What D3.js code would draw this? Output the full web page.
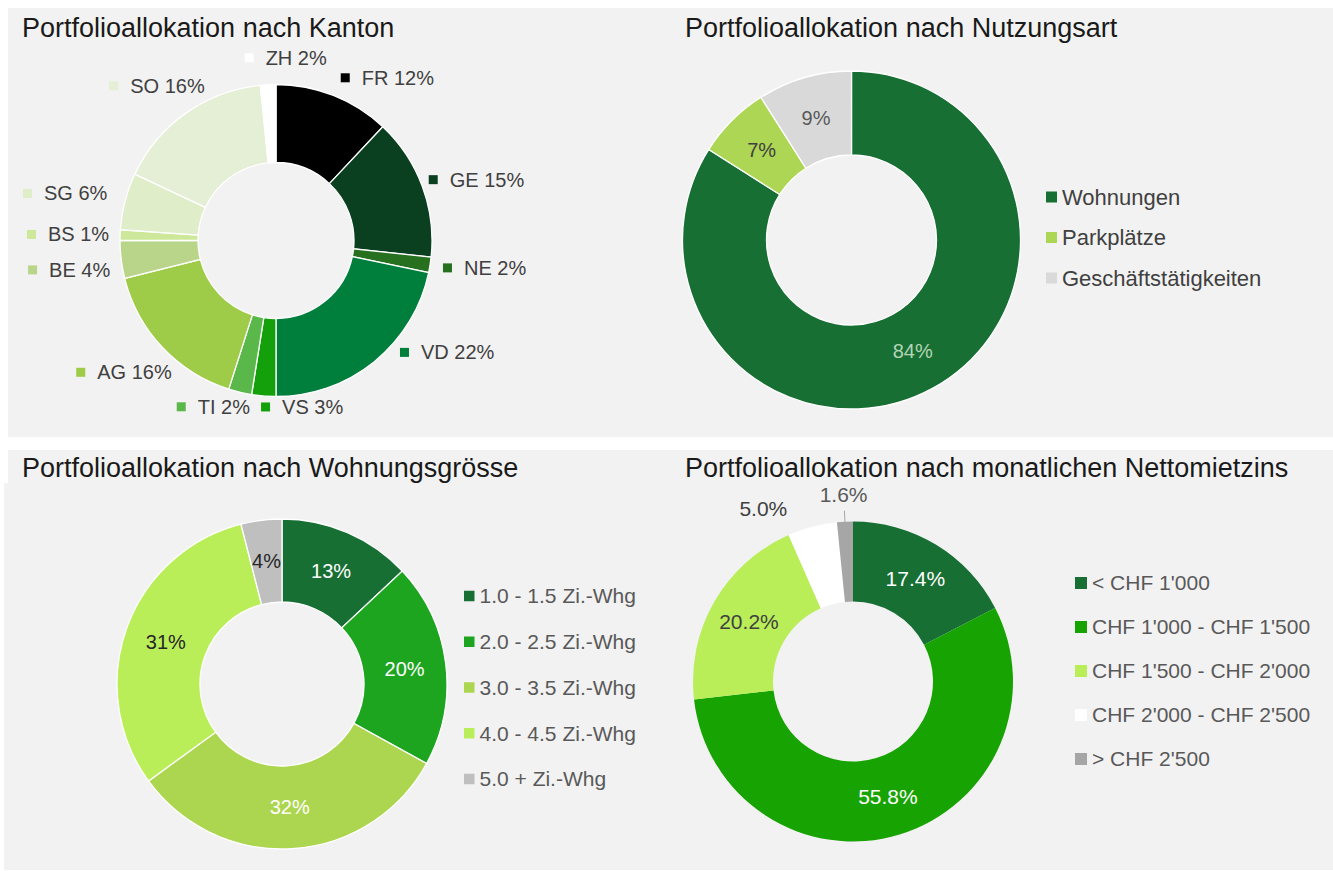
<!DOCTYPE html>
<html lang="de">
<head>
<meta charset="UTF-8">
<title>Portfolioallokation</title>
<style>
  body { margin: 0; background: #ffffff; }
  svg text { font-family: "Liberation Sans", Arial, Helvetica, sans-serif; }
</style>
</head>
<body>
<div id="chart"></div>
<script src="https://d3js.org/d3.v7.min.js"></script>
<script>
// --- data ---
const kantonNames = ["FR", "GE", "NE", "VD", "VS", "TI", "AG", "BE", "BS", "SG", "SO", "ZH"];
const kantonValues = [12, 14.7, 1.6, 21.7, 2.5, 2.4, 16.2, 3.9, 1.1, 5.9, 16.4, 1.6];

const nutzungNames = ["Wohnungen", "Parkplätze", "Geschäftstätigkeiten"];
const nutzungValues = [84, 7, 9];

const groesseNames = ["1.0 - 1.5 Zi.-Whg", "2.0 - 2.5 Zi.-Whg", "3.0 - 3.5 Zi.-Whg", "4.0 - 4.5 Zi.-Whg", "5.0 + Zi.-Whg"];
const groesseValues = [13, 20, 32, 31, 4];

const mieteNames = ["< CHF 1'000", "CHF 1'000 - CHF 1'500", "CHF 1'500 - CHF 2'000", "CHF 2'000 - CHF 2'500", "> CHF 2'500"];
const mieteValues = [17.4, 55.8, 20.2, 5.0, 1.6];

// --- colours ---
const kantonColors = ["#000000", "#0a3f20", "#277020", "#007e3c", "#14a00a", "#5ab84a", "#9ecb48", "#b9d58a", "#cde89a", "#dfedc8", "#e4efd6", "#ffffff"];
const nutzungColors = ["#176f34", "#acd654", "#d9d9d9"];
const groesseColors = ["#176f34", "#1ea520", "#add650", "#b9ee58", "#bfbfbf"];
const mieteColors = ["#176f34", "#17a302", "#b9ee58", "#ffffff", "#a6a6a6"];

const svg = d3.select("#chart").append("svg")
    .attr("width", 1333)
    .attr("height", 871);

// panel backgrounds
svg.append("rect").attr("x", 8).attr("y", 8).attr("width", 1325).attr("height", 429).attr("fill", "#f2f2f2");
svg.append("rect").attr("x", 8).attr("y", 450).attr("width", 1325).attr("height", 34).attr("fill", "#f2f2f2");
svg.append("rect").attr("x", 4).attr("y", 483).attr("width", 1329).attr("height", 387).attr("fill", "#f2f2f2");

function title(x, y, txt) {
    svg.append("text")
        .attr("x", x).attr("y", y)
        .attr("font-size", 27)
        .attr("fill", "#1a1a1a")
        .text(txt);
}
title(22, 37, "Portfolioallokation nach Kanton");
title(685, 37, "Portfolioallokation nach Nutzungsart");
title(22, 477, "Portfolioallokation nach Wohnungsgrösse");
title(685, 477, "Portfolioallokation nach monatlichen Nettomietzins");

function donut(cx, cy, rOuter, rInner, names, values, colors, stroke) {
    const color = d3.scaleOrdinal().domain(names).range(colors);
    const arcs = d3.pie().sort(null).value(d => d.v)(names.map((n, i) => ({ n, v: values[i] })));
    const arc = d3.arc().innerRadius(rInner).outerRadius(rOuter);
    const g = svg.append("g").attr("transform", `translate(${cx},${cy})`);
    g.selectAll("path")
        .data(arcs)
        .join("path")
        .attr("d", arc)
        .attr("fill", d => color(d.data.n))
        .attr("stroke", stroke ? "#ffffff" : "none")
        .attr("stroke-width", 1.3);
    return { g, arcs, arc, color };
}

function legend(x, y0, y1, size, fontSize, textColor, names, color) {
    const y = d3.scalePoint().domain(names).range([y0, y1]);
    const g = svg.append("g");
    const row = g.selectAll("g").data(names).join("g")
        .attr("transform", d => `translate(${x},${y(d)})`);
    row.append("rect")
        .attr("x", 0).attr("y", -size / 2)
        .attr("width", size).attr("height", size)
        .attr("fill", d => color(d));
    row.append("text")
        .attr("x", size + 5).attr("dy", "0.35em")
        .attr("font-size", fontSize)
        .attr("fill", textColor)
        .text(d => d);
}

// ---------- 1: Kanton ----------
const k = donut(276, 240.5, 156, 78, kantonNames, kantonValues, kantonColors, true);
// manual label nudges (Excel-style placed labels)
const kantonNudge = {
    FR: [0, 0], GE: [-6, 0], NE: [0, 0], VD: [16, -24], VS: [-6, -8], TI: [14, -4],
    AG: [18, 12], BE: [0, 8], BS: [0, 0], SG: [-7, -3], SO: [26, -12], ZH: [18, -8]
};
k.arcs.forEach(d => {
    const a = (d.startAngle + d.endAngle) / 2;
    const R = 165;
    const px = R * Math.sin(a), py = -R * Math.cos(a);
    const lab = k.g.append("g");
    lab.append("rect")
        .attr("x", 0).attr("y", -4.5).attr("width", 9).attr("height", 9)
        .attr("fill", k.color(d.data.n));
    const t = lab.append("text")
        .attr("x", 21).attr("dy", "0.35em")
        .attr("font-size", 20)
        .attr("fill", "#404040")
        .text(`${d.data.n} ${Math.round(d.data.v)}%`);
    const w = 21 + t.node().getComputedTextLength();
    let left;
    if (a > 2 * Math.PI - 0.1) left = px - w / 2;
    else if (a < Math.PI + 0.1) left = px + 4;
    else left = px - 2 - w;
    const cyy = py - 10 * Math.cos(a);
    const n = kantonNudge[d.data.n];
    lab.attr("transform", `translate(${left + n[0]},${cyy + n[1]})`);
});

// ---------- 2: Nutzungsart ----------
const nu = donut(851.5, 240, 169, 85, nutzungNames, nutzungValues, nutzungColors, true);
const nuLabelColors = ["#b4d4b4", "#404040", "#595959"];
const nuMid = d3.arc().innerRadius(85).outerRadius(169);
nu.g.selectAll("text.val").data(nu.arcs).join("text")
    .attr("class", "val")
    .attr("transform", d => `translate(${nuMid.centroid(d)})`)
    .attr("text-anchor", "middle").attr("dy", "0.35em")
    .attr("font-size", 20)
    .attr("fill", (d, i) => nuLabelColors[i])
    .text(d => `${d.data.v}%`);
legend(1046, 197, 278, 11, 22, "#404040", nutzungNames, nu.color);

// ---------- 3: Wohnungsgrösse ----------
const gr = donut(282, 684, 165, 82, groesseNames, groesseValues, groesseColors, true);
const grLabelColors = ["#ffffff", "#ffffff", "#ffffff", "#262626", "#262626"];
gr.g.selectAll("text.val").data(gr.arcs).join("text")
    .attr("class", "val")
    .attr("transform", d => `translate(${gr.arc.centroid(d)})`)
    .attr("text-anchor", "middle").attr("dy", "0.35em")
    .attr("font-size", 20)
    .attr("fill", (d, i) => grLabelColors[i])
    .text(d => `${d.data.v}%`);
legend(464, 596, 779, 10.5, 21, "#595959", groesseNames, gr.color);

// ---------- 4: Nettomietzins ----------
const mi = donut(853, 681.5, 160, 80, mieteNames, mieteValues, mieteColors, false);
const miLabelColors = ["#ffffff", "#ffffff", "#404040", "#404040", "#595959"];
const miOuter = d3.arc().innerRadius(187).outerRadius(187);
mi.arcs.forEach((d, i) => {
    const inside = d.data.v > 10;
    let [x, y] = inside ? mi.arc.centroid(d) : miOuter.centroid(d);
    if (i === 3) { x -= 42; y += 8; }
    mi.g.append("text")
        .attr("x", x).attr("y", y)
        .attr("text-anchor", "middle").attr("dy", "0.35em")
        .attr("font-size", 21)
        .attr("fill", miLabelColors[i])
        .text(`${d3.format(".1f")(d.data.v)}%`);
    if (i === 4) {
        const a = (d.startAngle + d.endAngle) / 2;
        mi.g.append("line")
            .attr("x1", 159 * Math.sin(a)).attr("y1", -159 * Math.cos(a))
            .attr("x2", 171 * Math.sin(a)).attr("y2", -171 * Math.cos(a))
            .attr("stroke", "#a6a6a6").attr("stroke-width", 1);
    }
});
legend(1075, 583, 759, 12, 21, "#595959", mieteNames, mi.color);
</script>
</body>
</html>
